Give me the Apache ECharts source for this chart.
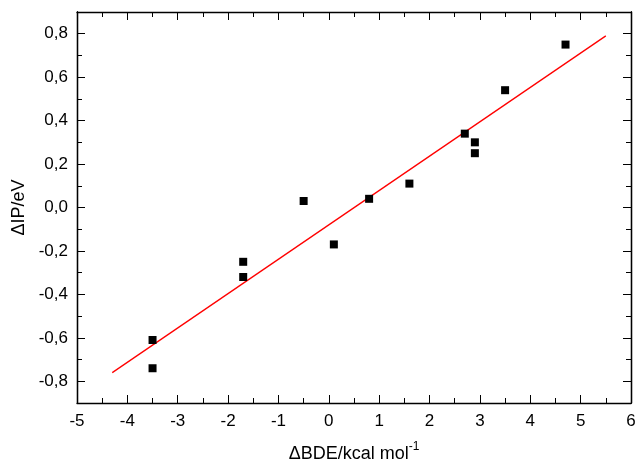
<!DOCTYPE html>
<html><head><meta charset="utf-8">
<script src="https://cdn.jsdelivr.net/npm/echarts@6/dist/echarts.min.js"></script>
<style>html,body{margin:0;padding:0;background:#fff}#c{width:637px;height:462px}</style>
</head><body><div id="c"></div>
<script>
// Data
const dBDE = [-3.5, -3.5, -1.7, -1.7, -0.5, 0.1, 0.8, 1.6, 2.7, 2.9, 2.9, 3.5, 4.7];
const dIP  = [-0.61, -0.74, -0.25, -0.32, 0.03, -0.17, 0.04, 0.11, 0.34, 0.30, 0.25, 0.54, 0.75];
const fitX = [-4.3, 5.5];
const fitY = [-0.76, 0.79];
const yTickLabels = [-0.8, -0.6, -0.4, -0.2, 0.0, 0.2, 0.4, 0.6, 0.8];

const FONT = 'Liberation Sans, Arial, sans-serif';
const fmtY = v => (v < 0 ? '-' : '') + Math.abs(v).toFixed(1).replace('.', ',');

const axisLine = {show: true, onZero: false, lineStyle: {color: '#000', width: 1.3}};
const chart = echarts.init(document.getElementById('c'));
const yBase = {type: 'value', min: -0.9, max: 0.9, splitLine: {show: false}};
chart.setOption({
  animation: false,
  grid: {left: 77, right: 6, top: 12, bottom: 59, containLabel: false, outerBoundsMode: 'none'},
  xAxis: [
    {type: 'value', position: 'bottom', min: -5, max: 6, interval: 1,
     axisLine: axisLine, splitLine: {show: false},
     axisTick: {show: true, inside: true, length: 8, lineStyle: {color: '#000'}},
     minorTick: {show: true, splitNumber: 2, length: 5, lineStyle: {color: '#000'}},
     axisLabel: {color: '#000', fontSize: 17, fontFamily: FONT, margin: 10},
     name: '{a|ΔBDE/kcal mol}{s|-1}', nameLocation: 'middle', nameGap: 38,
     nameTextStyle: {rich: {a: {fontSize: 18, fontFamily: FONT, color: '#000', verticalAlign: 'bottom'},
                            s: {fontSize: 12, fontFamily: FONT, color: '#000', verticalAlign: 'top', padding: [0,0,10,0]}}}},
    {type: 'value', position: 'top', min: -5, max: 6, interval: 1,
     axisLine: axisLine, splitLine: {show: false},
     axisTick: {show: true, inside: true, length: 8, lineStyle: {color: '#000'}},
     minorTick: {show: true, splitNumber: 2, length: 5, lineStyle: {color: '#000'}},
     axisLabel: {show: false}}
  ],
  yAxis: [
    Object.assign({}, yBase, {position: 'left', axisLine: axisLine,
     axisTick: {show: true, inside: true, length: 8, customValues: yTickLabels, lineStyle: {color: '#000'}},
     axisLabel: {color: '#000', fontSize: 17, fontFamily: FONT, margin: 9, customValues: yTickLabels, formatter: fmtY},
     name: 'ΔIP/eV', nameLocation: 'middle', nameGap: 40, nameRotate: 90,
     nameTextStyle: {fontSize: 18, fontFamily: FONT, color: '#000'}}),
    Object.assign({}, yBase, {position: 'left', interval: 0.1, axisLine: axisLine,
     axisTick: {show: true, inside: true, length: 5, lineStyle: {color: '#000'}},
     axisLabel: {show: false}}),
    Object.assign({}, yBase, {position: 'right', axisLine: axisLine,
     axisTick: {show: true, inside: true, length: 8, customValues: yTickLabels, lineStyle: {color: '#000'}},
     axisLabel: {show: false, customValues: yTickLabels}}),
    Object.assign({}, yBase, {position: 'right', interval: 0.1, axisLine: axisLine,
     axisTick: {show: true, inside: true, length: 5, lineStyle: {color: '#000'}},
     axisLabel: {show: false}})
  ],
  series: [
    {type: 'line', xAxisIndex: 0, yAxisIndex: 0, data: fitX.map((x, i) => [x, fitY[i]]),
     showSymbol: false, lineStyle: {color: '#ff0000', width: 1.3}, z: 2},
    {type: 'scatter', xAxisIndex: 0, yAxisIndex: 0, data: dBDE.map((x, i) => [x, dIP[i]]),
     symbol: 'rect', symbolSize: 8, itemStyle: {color: '#000', opacity: 1}, z: 3}
  ]
});
</script></body></html>
